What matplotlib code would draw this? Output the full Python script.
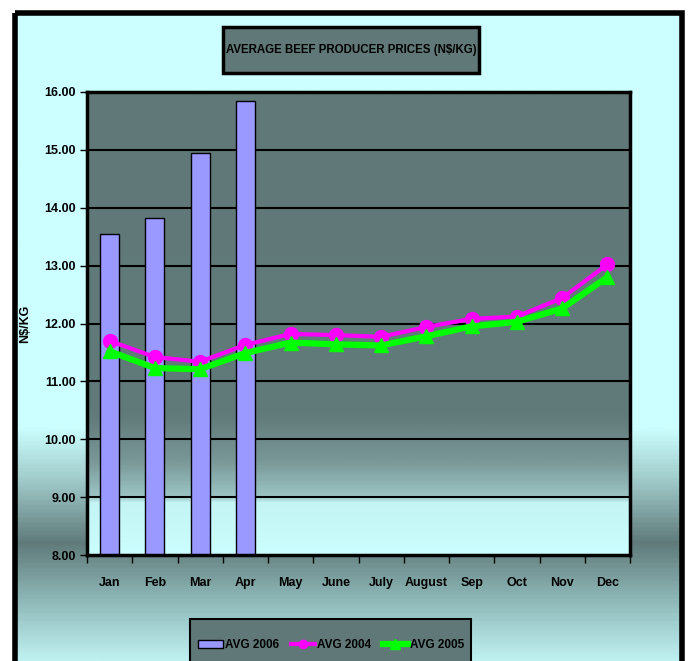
import numpy as np
import matplotlib
matplotlib.use('Agg')
import matplotlib.pyplot as plt
from matplotlib.colors import LinearSegmentedColormap
from matplotlib.patches import Rectangle
from matplotlib.lines import Line2D

plt.rcParams['font.family'] = ['Liberation Sans', 'DejaVu Sans']
plt.rcParams['font.weight'] = 'bold'

#%% data

months = ['Jan', 'Feb', 'Mar', 'Apr', 'May', 'June', 'July', 'August',
          'Sep', 'Oct', 'Nov', 'Dec']
avg_2006 = [13.55, 13.83, 14.94, 15.85]
avg_2004 = [11.70, 11.42, 11.34, 11.63, 11.82, 11.80, 11.77, 11.94,
            12.08, 12.12, 12.44, 13.02]
avg_2005 = [11.52, 11.23, 11.21, 11.49, 11.67, 11.64, 11.62, 11.78,
            11.95, 12.03, 12.26, 12.80]
yticks = [8, 9, 10, 11, 12, 13, 14, 15, 16]

#%% figure + background

W, H = 691, 661
fig = plt.figure(figsize=(W / 100, H / 100), dpi=100)
fig.patch.set_facecolor('white')

# background layer in pixel coordinates (y down)
bg = fig.add_axes([0, 0, 1, 1])
bg.set_xlim(0, W)
bg.set_ylim(H, 0)
bg.axis('off')

bg_cmap = LinearSegmentedColormap.from_list('bg', [
    (0.00, '#ccffff'), (0.64, '#ccffff'), (0.72, '#a2cccc'),
    (0.82, '#607a7a'), (0.91, '#8fb9b9'), (1.00, '#bff0f0')])
grad = np.linspace(0, 1, 400).reshape(-1, 1)
bg.imshow(grad, cmap=bg_cmap, aspect='auto', extent=[16, 682, H, 13],
          zorder=0)

# outer black frame
bg.add_patch(Rectangle((15, 13), 667, H + 20, fill=False, lw=4,
                       edgecolor='black', zorder=2))

# title box
bg.add_patch(Rectangle((223, 27), 256, 46, facecolor='#607878',
                       edgecolor='black', lw=2.5, zorder=2))
bg.text(351, 50, 'AVERAGE BEEF PRODUCER PRICES (N$/KG)', ha='center',
        va='center', fontsize=8.3, fontweight='bold', zorder=3)

# legend box (runs off the bottom edge)
bg.add_patch(Rectangle((190, 619), 281, 60, facecolor='#607878',
                       edgecolor='black', lw=1.5, zorder=2))

#%% plot area

ax = fig.add_axes([87 / W, 1 - 555 / H, (630 - 87) / W, (555 - 92) / H])
ax.set_xlim(-0.5, 11.5)
ax.set_ylim(8, 16)

pa_cmap = LinearSegmentedColormap.from_list('pa', [
    (0.00, '#cbfefe'), (0.11, '#c4f4f4'), (0.125, '#9cc4c4'),
    (0.20, '#7a9898'), (0.30, '#617a7a'), (1.00, '#607878')])
ax.imshow(np.linspace(0, 1, 400).reshape(-1, 1), cmap=pa_cmap,
          aspect='auto', origin='lower', extent=[-0.5, 11.5, 8, 16],
          zorder=0)

for y in yticks[1:-1]:
    ax.axhline(y, color='black', lw=1.5, zorder=1)

x = np.arange(len(months))
ax.bar(x[:len(avg_2006)], np.array(avg_2006) - 8, bottom=8, width=0.42,
       color='#9999ff', edgecolor='black', lw=1, zorder=2)
ax.plot(x, avg_2004, color='#ff00ff', lw=3, marker='o', ms=10, zorder=3)
ax.plot(x, avg_2005, color='#00ff00', lw=4.5, marker='^', ms=10, zorder=4)

ax.set_yticks(yticks)
ax.set_yticklabels(['%.2f' % v for v in yticks])
ax.set_xticks(x)
ax.set_xticklabels(months)
ax.set_xticks(np.arange(-0.5, 12, 1), minor=True)
ax.tick_params(axis='x', which='major', length=0, pad=16, labelsize=9)
ax.tick_params(axis='x', which='minor', length=6, width=1)
ax.tick_params(axis='y', length=5, width=1, pad=3, labelsize=9)
for s in ax.spines.values():
    s.set_linewidth(2.5)
    s.set_color('black')
ax.set_ylabel('N$/KG', fontsize=9, fontweight='bold')
ax.yaxis.set_label_coords((31 - 87) / 543, 0.5)

#%% legend

handles = [
    Rectangle((0, 0), 1, 1, facecolor='#9999ff', edgecolor='black', lw=1),
    Line2D([], [], color='#ff00ff', lw=3, marker='o', ms=6),
    Line2D([], [], color='#00ff00', lw=4.5, marker='^', ms=7),
]
leg = fig.legend(handles, ['AVG 2006', 'AVG 2004', 'AVG 2005'], ncol=3,
                 loc='center', bbox_to_anchor=(331 / W, 1 - 645 / H),
                 fontsize=8.5, frameon=False, borderpad=0.2,
                 handlelength=2.1, handletextpad=0.15, columnspacing=1.0)

fig.savefig('out.png', dpi=100)
